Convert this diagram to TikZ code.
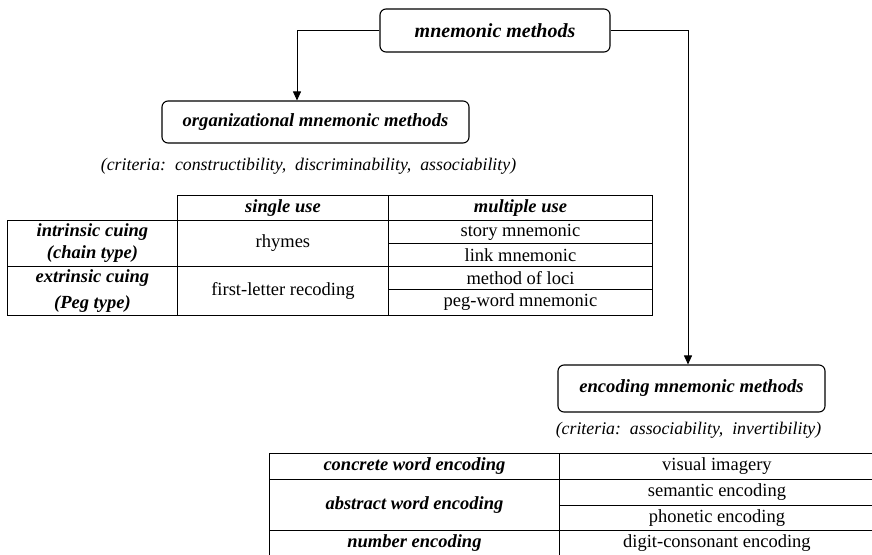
\documentclass[tikz,border=0pt]{standalone}
\usepackage{fontspec}
\setmainfont{Liberation Serif}
\usetikzlibrary{arrows.meta,positioning}

\tikzset{
	method/.style={draw, rounded corners=6pt, line width=1.1pt, font=\rmfamily\bfseries\itshape\fontsize{18.6}{22}\selectfont},
	criteria/.style={font=\rmfamily\itshape\fontsize{17.8}{22}\selectfont},
	cell/.style={draw, anchor=north west, inner sep=0pt, align=center, font=\rmfamily\upshape\fontsize{18.5}{22}\selectfont},
	headcell/.style={cell, font=\rmfamily\bfseries\itshape\fontsize{18.5}{22}\selectfont}
}

\begin{document}
\begin{tikzpicture}[x=1pt, y=-1pt, >={Triangle[width=8pt,length=9pt]}, line width=0.9pt]
	\useasboundingbox (0,0) rectangle (872,554);
	\clip (0,0) rectangle (872,554);

	% Boxes {methods, organizational, encoding}
	\node [method, minimum width=230pt, minimum height=43pt, font=\rmfamily\bfseries\itshape\fontsize{20}{24}\selectfont] (mm) at (495,30.5) {mnemonic methods};
	\node [method, minimum width=307pt, minimum height=42pt] (org) at (315.5,122) {organizational mnemonic methods};
	\node [method, minimum width=267pt, minimum height=47pt] (enc) at (691.5,388.5) {encoding mnemonic methods};

	\node [criteria, below=11pt of org, xshift=-7pt] (orgcrit) {(criteria:\ \ constructibility,\ \ discriminability,\ \ associability)};
	\node [criteria, below=6pt of enc, xshift=-3pt] (enccrit) {(criteria:\ \ associability,\ \ invertibility)};

	% Paths {methods -> organizational, methods -> encoding}
	\draw [->] (mm.west) -| ([xshift=-18.5pt]org.north);
	\draw [->] (mm.east) -| ([xshift=-3.5pt]enc.north);

	% Table of organizational methods
	\node [headcell, minimum width=211pt, minimum height=25pt] (single)    at (177,195) {single use};
	\node [headcell, minimum width=264pt, minimum height=25pt] (multiple)  at (388,195) {multiple use};
	\node [headcell, minimum width=170pt, minimum height=46pt] (intrinsic) at (7,220)   {intrinsic cuing\\(chain type)};
	\node [cell,     minimum width=211pt, minimum height=46pt] (rhymes)    at (177,220) {rhymes};
	\node [cell,     minimum width=264pt, minimum height=23pt] (story)     at (388,220) {story mnemonic};
	\node [cell,     minimum width=264pt, minimum height=23pt] (link)      at (388,243) {link mnemonic};
	\node [headcell, minimum width=170pt, minimum height=49pt] (extrinsic) at (7,266)   {extrinsic cuing\\[4pt](Peg type)};
	\node [cell,     minimum width=211pt, minimum height=49pt] (firstlet)  at (177,266) {first-letter recoding};
	\node [cell,     minimum width=264pt, minimum height=23pt] (loci)      at (388,266) {method of loci};
	\node [cell,     minimum width=264pt, minimum height=26pt] (pegword)   at (388,289) {peg-word mnemonic};

	% Table of encoding methods
	\node [headcell, minimum width=290pt, minimum height=26pt] (concrete)  at (269,453) {concrete word encoding};
	\node [cell,     minimum width=315pt, minimum height=26pt] (visual)    at (559,453) {visual imagery};
	\node [headcell, minimum width=290pt, minimum height=51pt] (abstract)  at (269,479) {abstract word encoding};
	\node [cell,     minimum width=315pt, minimum height=26pt] (semantic)  at (559,479) {semantic encoding};
	\node [cell,     minimum width=315pt, minimum height=25pt] (phonetic)  at (559,505) {phonetic encoding};
	\node [headcell, minimum width=290pt, minimum height=26pt] (number)    at (269,530) {number encoding};
	\node [cell,     minimum width=315pt, minimum height=26pt] (digit)     at (559,530) {digit-consonant encoding};
\end{tikzpicture}
\end{document}
